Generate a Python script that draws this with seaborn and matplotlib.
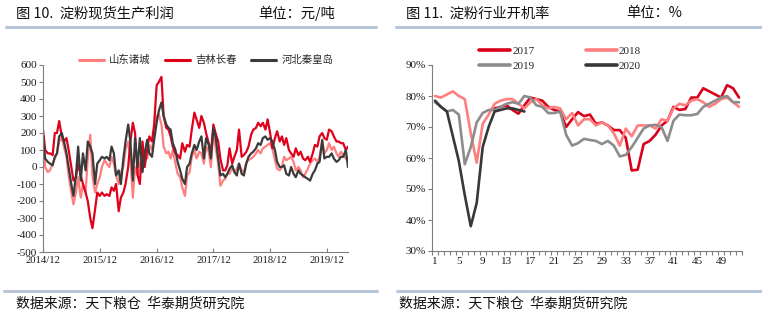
import numpy as np
import pandas as pd
import matplotlib
matplotlib.use('Agg')
import matplotlib.pyplot as plt
import seaborn as sns
from matplotlib.lines import Line2D

# ---------------- data: left chart (semi-monthly, 2014-12 .. 2020-05) ----------------
dates = pd.date_range('2014-12-01', periods=130, freq='SMS')
series_names = ['山东诸城', '吉林长春', '河北秦皇岛']
shandong = [170, 0, -30, -20, 20, 50, 80, 150, 170, 120,
            60, -50, -150, -220, -150, -60, -180, -100, -150, 50,
            190, -50, -150, -100, -60, 0, 40, 20, 0, 60,
            20, -50, -100, -30, 0, 100, 150, 60, -180, 0,
            -50, 20, 60, 100, 50, 130, 100, 200, 300, 310,
            250, 120, 80, 90, 50, 100, 20, -40, -60, -120,
            -170, -50, -30, 60, 100, 50, 90, 80, 20, 120,
            90, 0, 200, 120, 20, -110, -80, -70, -40, -40,
            0, -30, -10, 20, -20, -30, 30, 40, 50, 60,
            80, 100, 80, 110, 120, 130, 140, 110, 40, -10,
            -20, 0, 60, 40, 50, 60, 30, -20, 0, -20,
            -60, -40, -10, 20, 40, 50, 30, 60, 150, 80,
            100, 140, 100, 120, 80, 60, 90, 70, 50, 40]
jilin = [220, 100, 80, 80, 70, 200, 200, 270, 180, 150,
         170, 100, 0, -80, -60, 20, -50, -100, -150, -200,
         -300, -360, -250, -150, -170, -150, -170, -160, -170, -120,
         -140, -100, -260, -180, -150, -100, 0, 150, 260, 200,
         -50, -100, 150, 0, 100, 180, 150, 250, 480, 500,
         530, 300, 230, 220, 180, 120, 80, 70, 50, 140,
         90, 130, 120, 220, 320, 280, 230, 300, 260, 200,
         140, 80, 250, 200, 150, 50, -20, -20, 10, 110,
         20, 60, 100, 220, 60, 70, 90, 120, 190, 220,
         230, 260, 240, 260, 220, 280, 200, 110, 170, 210,
         150, 180, 130, 170, 100, 80, 60, 110, 70, 90,
         50, 40, 60, 30, 80, 130, 120, 180, 200, 170,
         160, 220, 210, 180, 150, 150, 140, 140, 100, 120]
hebei = [190, 50, 30, 20, 10, 60, 80, 180, 200, 150,
         80, 0, -100, -170, -50, 120, -80, 80, -20, 150,
         120, 80, -100, 20, 40, 60, 50, 60, 40, 120,
         80, -50, -20, -100, 50, 150, 250, 150, -80, 170,
         0, 170, -30, 80, 160, 80, 60, 160, 260, 330,
         380, 300, 250, 230, 220, 140, 100, 30, -20, -70,
         -100, 0, 20, 80, 130, 100, 150, 180, 50, 170,
         130, 50, 230, 180, 50, -50, -40, -60, -40, -10,
         10, -30, -50, 20, -40, -50, 20, 60, 80, 90,
         110, 140, 130, 170, 180, 160, 170, 150, 100, 30,
         0, 0, 10, -40, -50, 0, -40, -60, -20, -40,
         -50, -60, -70, -80, -40, -20, 20, 30, 160, 50,
         60, 60, 80, 50, 30, 40, 60, 60, 100, 0]
left_yticks = [600, 500, 400, 300, 200, 100, 0, -100, -200, -300, -400, -500]
left_xticks = ['2014-12-01', '2015-12-01', '2016-12-01', '2017-12-01', '2018-12-01', '2019-12-01']
left_xticklabels = ['2014/12', '2015/12', '2016/12', '2017/12', '2018/12', '2019/12']

# ---------------- data: right chart (weekly operating rate, %) ----------------
weeks = list(range(1, 53))
years = ['2017', '2018', '2019', '2020']
nan = np.nan
rate_2017 = [nan] * 10 + [76, 76.5, 77, 75.5, 74.3, 77, 79.5, 79, 78.5, 76.5,
                          75.5, 75, 70, 72.5, 74.8, 73.5, 74, 71, 71.5, 70.5,
                          69, 69, 66.5, 56, 56.2, 64.5, 65.5, 67.5, 70.5, 72,
                          76.5, 75.5, 75.8, 79.5, 79.5, 82.5, 81.5, 80.5, 79.5, 83.5,
                          82.5, 79.5]
rate_2018 = [80, 79.5, 80.5, 81.5, 80, 79, 68, 58.5, 71, 74,
             77.5, 78.5, 79, 79, 77.5, 76, 78, 79, 77, 76,
             76.5, 76, 72.5, 74.5, 70.5, 72.5, 72.5, 70.5, 71.5, 70.5,
             68, 64, 69.5, 67, 70.5, 70.5, 70.5, 69.5, 72.5, 72,
             76, 77.5, 77, 78.5, 79, 78, 76.5, 77.5, 79, 79.5,
             78, 76.5]
rate_2019 = [78, 76.5, 75, 75.5, 74, 58, 63.5, 71.5, 74.5, 75.5,
             75.5, 76.5, 77.5, 78, 77.5, 80, 79.5, 77, 76.5, 74.5,
             74.5, 75, 67.5, 64, 64.8, 66.2, 65.8, 65.5, 64.5, 65.5,
             64, 60.5, 61, 63.5, 66.5, 69.5, 70.5, 70.7, 70, 65.5,
             72, 74, 73.8, 73.8, 74.2, 76.5, 77.5, 78.5, 79.5, 80,
             78, 78]
rate_2020 = [78.5, 76.5, 75, 67, 59, 48, 38, 45.5, 63.5, 70,
             75, 75.5, 76, 76, 75.5, 75] + [nan] * 36
right_yticks = [30, 40, 50, 60, 70, 80, 90]
right_xticks = list(range(1, 53, 4))

# ---------------- style ----------------
sns.set_theme(style='white')
plt.rcParams['font.family'] = ['Noto Sans CJK SC', 'DejaVu Sans']
plt.rcParams['axes.unicode_minus'] = False

W, H = 762, 324
fig = plt.figure(figsize=(W / 100, H / 100), dpi=100)
fig.patch.set_facecolor('white')


def fx(px):
    return px / W


def fy(py):
    return 1 - py / H


TICK_FONT = 'Liberation Serif'
AXCOL = '#7f7f7f'
TXTCOL = '#1a1a1a'

# ---------------- left chart ----------------
ax1 = fig.add_axes([fx(43), fy(252), (348 - 43) / W, (252 - 65) / H])
df1 = pd.DataFrame({
    'date': list(dates) * 3,
    'value': shandong + jilin + hebei,
    'series': sum([[n] * len(dates) for n in series_names], []),
})
pal1 = {'山东诸城': '#ff7f7f', '吉林长春': '#e0001b', '河北秦皇岛': '#3b3b3b'}
sns.lineplot(data=df1, x='date', y='value', hue='series', hue_order=series_names,
             palette=pal1, linewidth=1.6, estimator=None, ax=ax1, legend=False)
ax1.set_ylim(-500, 600)
ax1.set_xlim(dates[0], dates[-1])
ax1.set_yticks(left_yticks)
ax1.set_yticklabels([str(v) for v in left_yticks], fontfamily=TICK_FONT, fontsize=8, color=TXTCOL)
ax1.set_xticks(pd.to_datetime(left_xticks))
ax1.set_xticklabels(left_xticklabels, fontfamily=TICK_FONT, fontsize=7.7, color=TXTCOL)
ax1.set_xlabel('')
ax1.set_ylabel('')
for s in ['top', 'right']:
    ax1.spines[s].set_visible(False)
for s in ['left', 'bottom']:
    ax1.spines[s].set_color(AXCOL)
    ax1.spines[s].set_linewidth(0.8)
ax1.tick_params(axis='y', direction='out', length=3, width=0.8, color=AXCOL, pad=1.5, left=True)
ax1.tick_params(axis='x', direction='in', length=3, width=0.8, color=AXCOL, pad=3, bottom=True)
h1 = [Line2D([0], [0], color=pal1[n], lw=2.2) for n in series_names]
fig.legend(h1, series_names, loc='center', bbox_to_anchor=(fx(206), fy(60)), ncol=3,
           frameon=False, prop={'family': 'Noto Sans CJK SC', 'size': 7.5},
           handlelength=2.4, handletextpad=0.5, columnspacing=1.4, borderpad=0)

# ---------------- right chart ----------------
ax2 = fig.add_axes([fx(432), fy(251), (742 - 432) / W, (251 - 65) / H])
df2 = pd.DataFrame({
    'week': weeks * 4,
    'rate': rate_2017 + rate_2018 + rate_2019 + rate_2020,
    'year': sum([[y] * 52 for y in years], []),
})
pal2 = {'2017': '#d9001b', '2018': '#ff7f7f', '2019': '#8c8c8c', '2020': '#383838'}
sns.lineplot(data=df2, x='week', y='rate', hue='year', hue_order=years,
             palette=pal2, linewidth=1.9, estimator=None, ax=ax2, legend=False)
ax2.set_xlim(0.5, 52.5)
ax2.set_ylim(30, 90)
ax2.set_yticks(right_yticks)
ax2.set_yticklabels([f'{v}%' for v in right_yticks], fontfamily=TICK_FONT, fontsize=8, color=TXTCOL)
ax2.set_xticks(right_xticks)
ax2.set_xticklabels([str(v) for v in right_xticks], fontfamily=TICK_FONT, fontsize=8, color=TXTCOL)
ax2.set_xticks(np.arange(0.5, 53, 1), minor=True)
ax2.set_xlabel('')
ax2.set_ylabel('')
for s in ['top', 'right']:
    ax2.spines[s].set_visible(False)
for s in ['left', 'bottom']:
    ax2.spines[s].set_color(AXCOL)
    ax2.spines[s].set_linewidth(0.8)
ax2.tick_params(axis='y', direction='out', length=3, width=0.8, color=AXCOL, pad=1.5, left=True)
ax2.tick_params(axis='x', which='major', length=0, pad=4, bottom=True)
ax2.tick_params(axis='x', which='minor', direction='out', length=3, width=0.8, color=AXCOL, bottom=True)
order = ['2017', '2019', '2018', '2020']
h2 = [Line2D([0], [0], color=pal2[y], lw=2.6) for y in order]
fig.legend(h2, order, loc='center', bbox_to_anchor=(fx(560), fy(58.5)), ncol=2,
           frameon=False, prop={'family': TICK_FONT, 'size': 8},
           handlelength=2.8, handletextpad=0.2, columnspacing=4.6, labelspacing=0.45, borderpad=0)

# ---------------- titles, rules, sources ----------------
RULE = '#b7c6d9'
title_kw = dict(fontsize=10.3, fontweight='normal', color='#111111', va='center', ha='left')
fig.text(fx(16), fy(13.5), '图 10.  淀粉现货生产利润', **title_kw)
fig.text(fx(258), fy(13.5), '单位：元/吨', **title_kw)
fig.text(fx(406), fy(13.5), '图 11.  淀粉行业开机率', **title_kw)
fig.text(fx(626), fy(13.5), '单位：%', **title_kw)
fig.add_artist(Line2D([fx(6), fx(376)], [fy(26.5), fy(26.5)], color=RULE, lw=2.2, transform=fig.transFigure))
fig.add_artist(Line2D([fx(396), fx(762)], [fy(26.5), fy(26.5)], color=RULE, lw=2.2, transform=fig.transFigure))
fig.add_artist(Line2D([fx(4), fx(377)], [fy(291), fy(291)], color=RULE, lw=2.2, transform=fig.transFigure))
fig.add_artist(Line2D([fx(397), fx(762)], [fy(291), fy(291)], color=RULE, lw=2.2, transform=fig.transFigure))
src_kw = dict(fontsize=10, color='#111111', va='center', ha='left')
fig.text(fx(16), fy(304), '数据来源：天下粮仓  华泰期货研究院', **src_kw)
fig.text(fx(399), fy(304), '数据来源：天下粮仓  华泰期货研究院', **src_kw)

fig.savefig('out.png', dpi=100, facecolor='white')
